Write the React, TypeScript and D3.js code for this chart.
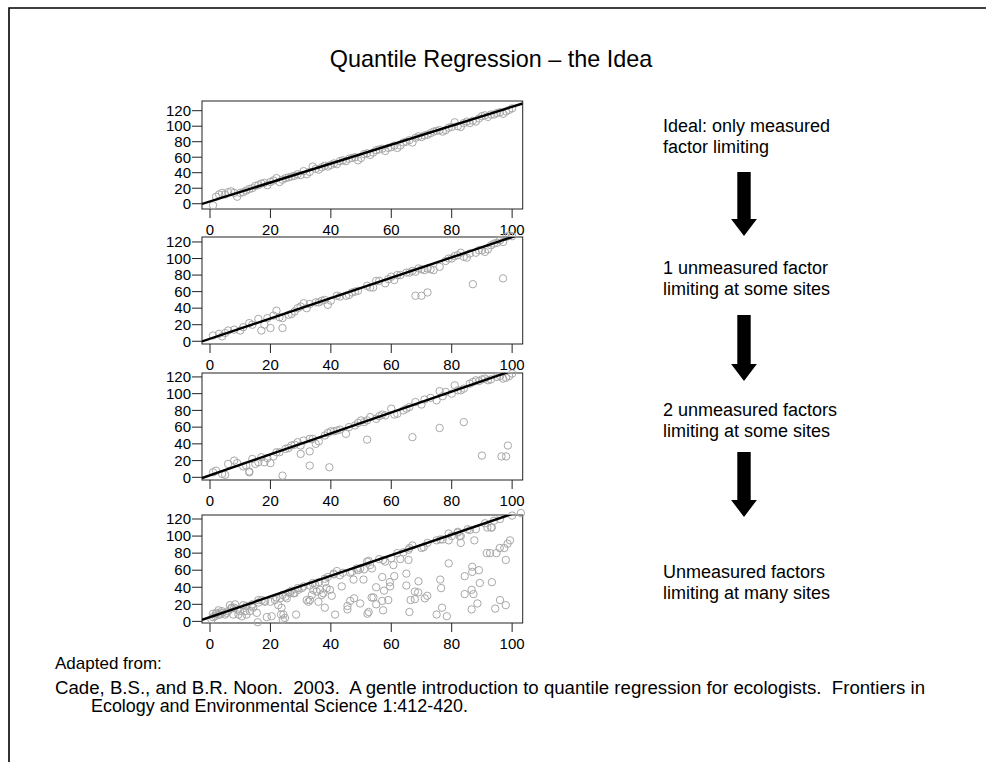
import React from "react";
import * as d3 from "d3";

// ---- data -------------------------------------------------------------
const xTicks = [0, 20, 40, 60, 80, 100];
const yTicks = [0, 20, 40, 60, 80, 100, 120];

// upper-quantile line for each panel: intercept / slope
const lineIntercepts = [3, 3, 2.5, 5];
const lineSlopes = [1.22, 1.23, 1.25, 1.21];

// panel 1: only the measured factor limits the response
const ptsIdeal: [number, number][] = [
  [1, -2], [2, 9], [3, 12], [4, 14], [5, 12], [6, 15], [7, 16], [8, 14], [9, 9], [10, 14],
  [11, 15], [12, 17], [13, 19], [14, 20], [15, 23], [16, 24], [17, 26], [18, 27], [19, 24], [20, 28],
  [21, 30], [22, 33], [23, 28], [24, 31], [25, 33], [26, 34], [27, 35], [28, 36], [29, 38], [30, 37],
  [31, 42], [32, 38], [33, 41], [34, 48], [35, 45], [36, 44], [37, 47], [38, 49], [39, 48], [40, 50],
  [41, 52], [42, 51], [43, 55], [44, 56], [45, 55], [46, 58], [47, 59], [48, 60], [49, 56], [50, 59],
  [51, 64], [52, 65], [53, 63], [54, 66], [55, 69], [56, 70], [57, 71], [58, 68], [59, 72], [60, 73],
  [61, 75], [62, 72], [63, 75], [64, 79], [65, 80], [66, 82], [67, 79], [68, 85], [69, 87], [70, 86],
  [71, 88], [72, 89], [73, 91], [74, 93], [75, 94], [76, 95], [77, 93], [78, 95], [79, 98], [80, 99],
  [81, 105], [82, 100], [83, 99], [84, 104], [85, 106], [86, 104], [87, 107], [88, 106], [89, 110], [90, 113],
  [91, 114], [92, 112], [93, 115], [94, 115], [95, 117], [96, 118], [97, 116], [98, 119], [99, 121], [100, 123],
];

// panel 2: one unmeasured factor limiting at some sites
const ptsOne: [number, number][] = [
  [1, 7], [3, 9], [4, 6], [5, 10], [6, 13], [8, 14], [10, 13], [11, 17], [13, 22], [14, 20],
  [16, 27], [17, 13], [18, 20], [19, 28], [20, 16], [21, 31], [22, 37], [23, 29], [24, 28], [24, 16],
  [26, 32], [27, 33], [28, 36], [29, 40], [30, 42], [31, 46], [32, 40], [33, 45], [35, 47], [36, 47],
  [37, 49], [38, 50], [39, 44], [40, 49], [42, 55], [43, 54], [45, 55], [46, 56], [47, 59], [48, 60],
  [49, 61], [52, 67], [53, 65], [54, 65], [55, 73], [56, 73], [58, 70], [59, 75], [60, 78], [61, 74],
  [62, 80], [63, 80], [65, 83], [66, 83], [67, 85], [68, 84], [69, 88], [70, 87], [71, 86], [72, 88],
  [73, 87], [74, 86], [76, 90], [78, 97], [79, 100], [80, 100], [81, 103], [82, 104], [83, 107], [84, 102],
  [85, 101], [86, 106], [88, 107], [89, 110], [90, 110], [91, 108], [92, 111], [93, 116], [94, 118], [95, 119],
  [96, 122], [97, 120], [98, 126], [99, 128], [100, 127],
  [68, 55], [70, 55], [72, 59], [87, 69], [97, 76],
];

// panel 3: two unmeasured factors limiting at some sites
const ptsTwo: [number, number][] = [
  [1, 6], [2, 8], [4, 4], [5, 3], [6, 16], [8, 20], [9, 17], [11, 13], [12, 14], [13, 6],
  [14, 22], [15, 16], [16, 18], [17, 24], [18, 18], [19, 23], [20, 17], [21, 25], [22, 30], [23, 30],
  [25, 34], [26, 35], [27, 38], [28, 39], [29, 42], [30, 38], [31, 44], [33, 46], [34, 46], [35, 40],
  [36, 43], [38, 50], [39, 53], [40, 55], [41, 55], [42, 56], [43, 57], [45, 52], [46, 60], [48, 62],
  [49, 65], [50, 68], [51, 66], [52, 68], [53, 72], [55, 70], [56, 73], [57, 75], [58, 74], [60, 82],
  [61, 75], [62, 76], [64, 80], [65, 82], [66, 84], [68, 90], [70, 87], [71, 93], [73, 95], [75, 92],
  [76, 103], [77, 97], [78, 102], [80, 100], [81, 110], [82, 104], [83, 104], [84, 106], [86, 112], [87, 114],
  [88, 116], [89, 115], [90, 117], [91, 118], [92, 116], [93, 117], [95, 120], [96, 121], [97, 118], [98, 119],
  [99, 121], [100, 124],
  [13, 7], [24, 2], [30, 28], [33, 31], [33, 14], [39.5, 12], [52, 45], [67, 48], [76, 59], [84, 66],
  [90, 26], [96.5, 25], [98, 25], [98.6, 38],
];

// panel 4: unmeasured factors limiting at many sites
const ptsMany: [number, number][] = [
  [1, 5], [2, 9], [3, 8], [4, 10], [6, 12], [7, 15], [8, 16], [9, 14], [11, 19], [12, 18],
  [14, 20], [16, 22], [18, 24], [20, 23], [22, 28], [24, 31], [25, 29], [26, 34], [27, 36], [28, 33],
  [29, 39], [31, 41], [33, 42], [34, 45], [36, 46], [38, 50], [39, 52], [41, 55], [43, 54], [44, 57],
  [47, 58], [49, 60], [51, 61], [52, 70], [53, 66], [56, 73], [58, 70], [60, 74], [62, 80], [64, 81],
  [66, 86], [67, 89], [70, 86], [72, 92], [75, 95], [77, 96], [79, 103], [80, 100], [82, 104], [83, 100],
  [86, 107], [88, 108], [91, 115], [93, 110], [94, 118], [96, 120], [100, 124],
  [0.5, 2], [1, 9], [1.7, 6], [2.2, 10], [2.8, 13], [3.3, 8], [3.9, 12], [5, 8], [5.5, 10], [6.6, 19],
  [7.2, 16], [7.7, 8], [8.3, 20], [9.4, 8], [9.9, 12], [10.5, 6], [11.6, 12], [12.1, 8], [13.2, 12], [13.8, 18],
  [14.3, 16], [15.5, 10], [15.8, -1], [16, 25], [17.1, 25], [18.2, 23], [18.8, 5], [20.4, 6], [21.5, 25], [22.6, 19],
  [23.2, 27], [23.5, 8], [23.7, 16], [24.1, 2], [24.3, 8], [24.8, 4], [25.4, 27], [26.5, 33], [27.6, 33], [28.5, 8],
  [29.3, 37], [30.4, 39], [32, 25], [32.6, 23], [33.1, 25], [33.7, 31], [34.2, 37], [34.8, 43], [35.3, 35], [35.9, 23],
  [36.4, 37], [37, 31], [37.5, 33], [38, 16], [38.6, 39], [39.7, 37], [40.3, 30], [41.4, 8],
  [42, 59], [40.9, 56], [43.6, 41], [38.1, 46], [45.5, 18], [45.5, 14], [46.4, 24], [47.7, 27], [49.7, 21], [53.5, 28],
  [54.1, 28], [55, 20], [55, 40], [52.5, 11], [52.1, 9], [57.3, 13], [57, 24], [59, 25], [57.6, 36], [59.6, 41],
  [57, 52], [59.5, 46], [46.4, 57], [47.5, 49], [50.8, 49], [53.6, 62], [48.6, 62], [49.7, 62], [60.7, 66], [65, 56],
  [57.3, 72], [52.5, 71],
  [66, 11], [65, 42], [66.4, 25], [67.8, 26], [68.9, 34], [67.8, 35], [71.1, 27], [71.9, 30], [75, 8], [76.8, 16],
  [76.5, 39], [76.2, 49], [78.4, 6], [79, 68], [84.3, 53], [86.8, 58], [86.8, 64], [84.3, 32], [86.6, 37], [87.2, 32],
  [86.6, 14], [88.5, 21], [89, 60], [89.3, 45], [91.6, 80], [92.7, 80], [93.3, 46], [94.4, 15], [96, 25], [94.8, 80],
  [95.9, 86], [97.4, 86], [97.9, 72], [97.9, 19], [98.5, 91], [99.3, 95], [65.7, 72], [65.7, 84], [70.7, 87], [76.2, 96],
  [79, 95], [82, 105], [82.6, 100], [83, 92], [87.5, 95], [85.3, 108], [91.8, 110], [93.3, 110], [63, 73], [61, 53],
  [69, 47], [102.9, 127],
];

const panelPoints = [ptsIdeal, ptsOne, ptsTwo, ptsMany];

const captions: string[][] = [
  ["Ideal: only measured", "factor limiting"],
  ["1 unmeasured factor", "limiting at some sites"],
  ["2 unmeasured factors", "limiting at some sites"],
  ["Unmeasured factors", "limiting at many sites"],
];

const titleText = "Quantile Regression \u2013 the Idea";
const sourceLines = [
  "Adapted from:",
  "Cade, B.S., and B.R. Noon.  2003.  A gentle introduction to quantile regression for ecologists.  Frontiers in",
  "Ecology and Environmental Science 1:412-420.",
];

// ---- layout -----------------------------------------------------------
const W = 986;
const H = 762;
const FONT = "'Liberation Sans', Arial, Helvetica, sans-serif";
const plotLeft = 202;
const plotRight = 522.7;
const xDomain: [number, number] = [-2.65, 103.5];
const panelBoxes = [
  { top: 101, bottom: 209, yMin: -6.8, yMax: 132.5 },
  { top: 237, bottom: 344, yMin: -3.3, yMax: 126 },
  { top: 373, bottom: 480, yMin: -3.2, yMax: 124.7 },
  { top: 515, bottom: 623, yMin: -1.9, yMax: 124.7 },
];
const captionBaselines = [132, 274, 416, 578];
const arrowSpans = [
  [172, 236],
  [315, 381],
  [452, 517],
];
const arrowX = 744;

const x = d3.scaleLinear().domain(xDomain).range([plotLeft, plotRight]);

function Panel({ idx }: { idx: number }) {
  const box = panelBoxes[idx];
  const y = d3.scaleLinear().domain([box.yMin, box.yMax]).range([box.bottom, box.top]);
  const a = lineIntercepts[idx];
  const b = lineSlopes[idx];
  const clipId = `clip-${idx}`;
  const fit = d3
    .line<number>()
    .x((d) => x(d))
    .y((d) => y(a + b * d));
  const tickFs = 15;
  return (
    <g>
      <defs>
        <clipPath id={clipId}>
          <rect x={plotLeft} y={box.top} width={plotRight - plotLeft} height={box.bottom - box.top} />
        </clipPath>
      </defs>
      <rect x={plotLeft} y={box.top} width={plotRight - plotLeft} height={box.bottom - box.top}
        fill="white" stroke="#222" strokeWidth={1} />
      {panelPoints[idx].map(([px, py], i) => (
        <circle key={i} cx={x(px)} cy={y(py)} r={3.7} fill="none" stroke="#a8a8a8" strokeWidth={1} />
      ))}
      <path d={fit(xDomain) || ""} clipPath={`url(#${clipId})`} stroke="black" strokeWidth={2.4} fill="none" />
      {yTicks.map((t) => (
        <g key={t}>
          <line x1={plotLeft - 10} x2={plotLeft} y1={y(t)} y2={y(t)} stroke="#222" strokeWidth={1} />
          <text x={plotLeft - 11} y={y(t) + 5.3} textAnchor="end"
            fontFamily={FONT} fontSize={tickFs} fill="black">{t}</text>
        </g>
      ))}
      {xTicks.map((t) => (
        <g key={t}>
          <line x1={x(t)} x2={x(t)} y1={box.bottom} y2={box.bottom + 9} stroke="#222" strokeWidth={1} />
          <text x={x(t)} y={box.bottom + 26} textAnchor="middle"
            fontFamily={FONT} fontSize={tickFs} fill="black">{t}</text>
        </g>
      ))}
    </g>
  );
}

function Arrow({ top, tip }: { top: number; tip: number }) {
  const shaft = 6.7;
  const head = 12.9;
  const headH = 17;
  const pts: [number, number][] = [
    [arrowX - shaft, top], [arrowX + shaft, top], [arrowX + shaft, tip - headH], [arrowX + head, tip - headH],
    [arrowX, tip], [arrowX - head, tip - headH], [arrowX - shaft, tip - headH],
  ];
  return <polygon points={pts.map((p) => p.join(",")).join(" ")} fill="black" />;
}

export default function App() {
  return (
    <svg width={W} height={H} style={{ position: "absolute", left: 0, top: 0, background: "white" }}>
      <rect x={0} y={0} width={W} height={H} fill="white" />
      <path d={`M9,${H} L9,8 L${W},8`} fill="none" stroke="black" strokeWidth={1.6} />
      <text x={491} y={67} textAnchor="middle" fontFamily={FONT} fontSize={23.4}>{titleText}</text>
      {panelBoxes.map((_, i) => <Panel key={i} idx={i} />)}
      {captions.map((lines, i) => (
        <g key={i}>
          {lines.map((l, j) => (
            <text key={j} x={663} y={captionBaselines[i] + j * 21} fontFamily={FONT} fontSize={18}>{l}</text>
          ))}
        </g>
      ))}
      {arrowSpans.map(([t, b], i) => <Arrow key={i} top={t} tip={b} />)}
      <text x={55} y={669} fontFamily={FONT} fontSize={17}>{sourceLines[0]}</text>
      <text x={55} y={694} fontFamily={FONT} fontSize={17.5} textLength={870} lengthAdjust="spacingAndGlyphs"
        style={{ whiteSpace: "pre" }}>{sourceLines[1]}</text>
      <text x={91} y={712} fontFamily={FONT} fontSize={17.5} textLength={377} lengthAdjust="spacingAndGlyphs">
        {sourceLines[2]}</text>
    </svg>
  );
}
